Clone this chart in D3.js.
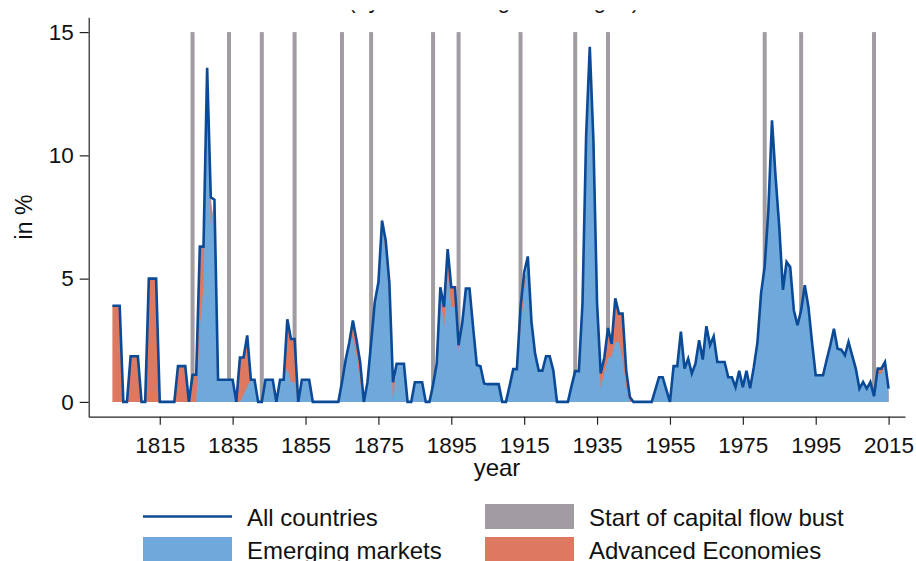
<!DOCTYPE html>
<html><head><meta charset="utf-8">
<script src="https://cdn.jsdelivr.net/npm/d3@7"></script>
<style>
body{margin:0;background:#fff}
svg{display:block;font-family:"Liberation Sans",Arial,Helvetica,sans-serif}
</style>
</head><body>
<svg id="chart" width="916" height="561"></svg>
<script>
// ---------------- data ----------------
const firstYear = 1802, lastYear = 2015;
const years = d3.range(firstYear, lastYear + 1);

// All countries (line), in %
const allCountries = [
  3.9,3.9,3.9,0,0,1.85,1.85,1.85,
  0,0,5.0,5.0,5.0,0,0,0,0,0,
  1.45,1.45,1.45,0,1.1,1.1,6.3,6.3,13.55,8.3,
  8.2,0.9,0.9,0.9,0.9,0.9,0,1.8,1.8,2.7,
  0.9,0.9,0,0,0.9,0.9,0.9,0,0.9,0.9,
  3.35,2.55,2.55,0,0.9,0.9,0.9,0,0,0,
  0,0,0,0,0,0.8,1.7,2.4,3.3,2.5,
  1.6,0,0.8,2.4,4.05,4.85,7.35,6.55,4.85,0.8,
  1.55,1.55,1.55,0,0,0.8,0.8,0.8,0,0,
  0.7,1.55,4.65,3.85,6.2,4.65,4.65,2.3,3.2,4.6,
  4.6,3.0,1.5,1.45,0.75,0.72,0.72,0.72,0.72,0,
  0,0.65,1.33,1.33,3.85,5.25,5.9,3.25,1.95,1.27,
  1.27,1.85,1.85,1.27,0,0,0,0,0.65,1.25,
  1.25,4.0,10.8,14.4,10.6,4.0,1.15,1.8,3.0,2.35,
  4.2,3.58,3.58,1.28,0.2,0,0,0,0,0,
  0,0.5,1.0,1.0,0.5,0,1.45,1.45,2.85,1.35,
  1.75,1.15,1.55,2.5,1.72,3.07,2.3,2.66,1.62,1.62,
  1.62,1.0,1.0,0.6,1.26,0.6,1.26,0.55,1.4,2.4,
  4.4,5.5,7.77,11.42,9.1,7.1,4.55,5.68,5.47,3.72,
  3.11,3.72,4.73,3.85,2.4,1.08,1.08,1.08,1.7,2.3,
  2.97,2.16,2.12,1.89,2.43,1.89,1.35,0.54,0.81,0.54,
  0.81,0.23,1.35,1.35,1.62,0.54
];

// Emerging markets (blue area)
const emergingMarkets = [
  0,0,0,0,0,0,0,0,
  0,0,0,0,0,0,0,0,0,0,
  0,0,0,0,0,0,3.0,4.7,13.55,7.2,
  8.2,0.9,0.9,0.9,0.9,0.9,0,0,0.3,0.6,
  0.9,0.9,0,0,0.9,0.9,0.9,0,0.9,0.9,
  1.4,0.8,0.8,0,0.9,0.9,0.9,0,0,0,
  0,0,0,0,0,0.8,1.7,2.4,2.6,1.9,
  0.8,0,0.8,2.4,4.05,4.85,7.2,6.0,4.1,0,
  1.55,1.55,1.55,0,0,0.8,0.8,0.8,0,0,
  0.7,1.55,4.4,3.0,5.2,3.85,3.85,2.1,3.2,4.6,
  4.6,3.0,1.5,1.45,0.75,0.72,0.72,0.72,0.72,0,
  0,0.65,1.33,1.33,2.9,4.6,5.9,3.25,1.95,1.27,
  1.27,1.85,1.85,1.27,0,0,0,0,0.65,1.25,
  1.25,3.5,9.0,14.4,10.6,3.3,0.55,1.2,1.77,1.85,
  2.43,2.43,1.69,0.61,0,0,0,0,0,0,
  0,0.5,1.0,1.0,0.5,0,1.45,1.45,2.85,1.35,
  1.75,1.15,1.55,2.45,1.72,3.0,2.3,2.66,1.62,1.62,
  1.62,1.0,1.0,0.6,1.26,0.6,1.26,0.55,1.4,2.4,
  4.4,5.5,7.77,11.42,9.1,7.1,4.55,5.68,5.47,3.72,
  3.11,3.72,4.7,3.85,2.4,1.08,1.08,1.08,1.7,2.3,
  2.97,2.16,2.12,1.89,2.43,1.89,1.35,0.54,0.81,0.54,
  0.81,0.23,1.1,1.15,1.45,0.54
];

// Advanced Economies (orange area)
const advancedEconomies = [
  3.9,3.9,3.9,0,0,1.85,1.85,1.85,
  0,0,5.0,5.0,5.0,0,0,0,0,0,
  1.45,1.45,1.45,0,1.1,1.1,6.3,6.3,11.0,8.3,
  7.0,0.5,0.5,0.5,0.5,0.5,0,1.8,1.8,2.7,
  0.9,0.5,0,0,0.4,0.4,0.4,0,0.5,0.6,
  3.35,2.55,2.55,0,0.4,0.4,0.4,0,0,0,
  0,0,0,0,0,0.5,1.2,2.0,3.3,2.5,
  1.6,0,0.4,1.8,3.0,4.0,7.45,6.55,4.85,0.8,
  1.0,1.0,1.0,0,0,0.4,0.4,0.4,0,0,
  0.4,1.2,4.65,3.85,6.2,4.65,4.65,2.3,2.5,3.5,
  3.5,2.2,1.0,1.0,0.4,0.4,0.4,0.4,0.4,0,
  0,0.3,1.0,1.0,3.85,5.25,5.0,2.5,1.4,0.9,
  0.9,1.2,1.2,0.9,0,0,0,0,0.3,0.9,
  0.9,4.0,10.8,12.5,9.0,4.0,1.15,1.8,3.0,2.35,
  4.2,3.58,3.58,1.28,0.2,0,0,0,0,0,
  0,0.2,0.5,0.5,0.2,0,0.8,0.8,2.0,0.8,
  1.0,0.6,1.0,2.55,1.2,3.12,1.6,1.8,1.0,1.0,
  1.0,0.6,0.6,0.3,0.8,0.3,0.8,0.3,0.9,1.5,
  3.0,4.0,6.0,9.0,7.0,5.5,3.5,4.5,4.3,2.8,
  2.4,3.0,4.8,3.0,1.8,0.7,0.7,0.7,1.2,1.8,
  2.3,1.6,1.6,1.4,1.8,1.4,1.0,0.3,0.5,0.3,
  0.5,0.1,1.35,1.35,1.62,0.3
];

// Start of capital flow bust (grey bars, drawn at full height)
const bustYears = [1824,1834,1843,1852,1865,1873,1890,1897,1914,1929,1938,1981,1991,2011];
const bustHeight = 15;

const xTickValues = [1815,1835,1855,1875,1895,1915,1935,1955,1975,1995,2015];
const yTickValues = [0,5,10,15];

const legendItems = [
  {label:"All countries", kind:"line", color:"#0b4a97"},
  {label:"Start of capital flow bust", kind:"box", color:"#a09ca1"},
  {label:"Emerging markets", kind:"box", color:"#6fa8db"},
  {label:"Advanced Economies", kind:"box", color:"#de7961"}
];

const subtitle = "(by market weight averaged)";

// ---------------- drawing ----------------
const svg = d3.select("#chart");
const C = {line:"#0b4a97", em:"#6fa8db", ae:"#de7961", bust:"#a09ca1", axis:"#222", text:"#111"};

const x = d3.scaleLinear().domain([1795.5, 2019.5]).range([88.7, 905]);
const y = d3.scaleLinear().domain([-0.6, 15.6]).range([416.7, 17.3]);

const rows = years.map((yr, i) => ({year: yr, all: allCountries[i], em: emergingMarkets[i], ae: advancedEconomies[i]}));

// subtitle: only the lowest sliver is visible in the reference (cropped figure)
svg.append("defs").append("clipPath").attr("id", "subclip")
  .append("rect").attr("x", 0).attr("y", 10.3).attr("width", 916).attr("height", 10);
svg.append("text").attr("x", 348).attr("y", 7.8).attr("clip-path", "url(#subclip)")
  .attr("font-size", 23).attr("fill", C.text).text(subtitle);

// bust bars
svg.append("g").selectAll("rect").data(bustYears).join("rect")
  .attr("x", d => x(d) - 2).attr("width", 4)
  .attr("y", y(bustHeight)).attr("height", y(0) - y(bustHeight))
  .attr("fill", C.bust);

// areas
const areaAE = d3.area().x(d => x(d.year)).y0(y(0)).y1(d => y(d.ae));
const areaEM = d3.area().x(d => x(d.year)).y0(y(0)).y1(d => y(d.em));
svg.append("path").datum(rows).attr("d", areaAE).attr("fill", C.ae);
svg.append("path").datum(rows).attr("d", areaEM).attr("fill", C.em);

// all countries line
const line = d3.line().x(d => x(d.year)).y(d => y(d.all));
svg.append("path").datum(rows).attr("d", line)
  .attr("fill", "none").attr("stroke", C.line).attr("stroke-width", 2.6)
  .attr("stroke-linejoin", "miter").attr("stroke-miterlimit", 4);

// axes
const yAxis = d3.axisLeft(y).tickValues(yTickValues).tickSize(9).tickPadding(6).tickSizeOuter(0);
const xAxis = d3.axisBottom(x).tickValues(xTickValues).tickFormat(d3.format("d")).tickSize(8).tickPadding(12).tickSizeOuter(0);

const gy = svg.append("g").attr("transform", "translate(88.7,0)").call(yAxis);
const gx = svg.append("g").attr("transform", "translate(0,416.7)").call(xAxis);
[gy, gx].forEach(g => {
  g.select(".domain").attr("stroke", C.axis).attr("stroke-width", 1.2);
  g.selectAll(".tick line").attr("stroke", C.axis).attr("stroke-width", 1.2);
  g.selectAll(".tick text").attr("fill", C.text).attr("font-size", 22.5)
    .attr("font-family", '"Liberation Sans",Arial,sans-serif');
});

// axis titles
svg.append("text").attr("transform", "translate(32,217) rotate(-90)")
  .attr("text-anchor", "middle").attr("font-size", 23).attr("fill", C.text).text("in %");
svg.append("text").attr("x", 497).attr("y", 476)
  .attr("text-anchor", "middle").attr("font-size", 24).attr("fill", C.text).text("year");

// legend
const lg = svg.append("g");
const colX = [143, 485], textX = [247, 589], rowY = [504, 537];
legendItems.forEach((it, i) => {
  const c = i % 2, r = Math.floor(i / 2);
  if (it.kind === "line") {
    lg.append("line").attr("x1", colX[c]).attr("x2", colX[c] + 89)
      .attr("y1", rowY[r] + 12.5).attr("y2", rowY[r] + 12.5)
      .attr("stroke", it.color).attr("stroke-width", 2.6);
  } else {
    lg.append("rect").attr("x", colX[c]).attr("y", rowY[r]).attr("width", 89).attr("height", 25)
      .attr("fill", it.color);
  }
  lg.append("text").attr("x", textX[c]).attr("y", rowY[r] + 21.5)
    .attr("font-size", 24).attr("fill", C.text).text(it.label);
});
</script>
</body></html>
